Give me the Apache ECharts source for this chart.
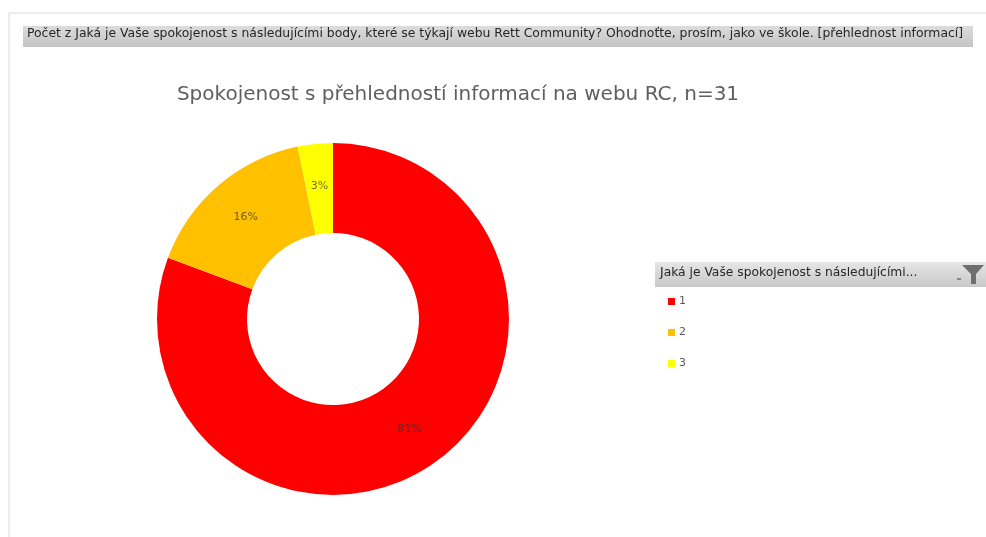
<!DOCTYPE html>
<html>
<head>
<meta charset="utf-8">
<script src="https://cdn.jsdelivr.net/npm/echarts@6/dist/echarts.min.js"></script>
<style>
  html, body { margin: 0; padding: 0; background: #ffffff; }
  #chart { width: 986px; height: 537px; }
</style>
</head>
<body>
<div id="chart"></div>
<script>
// Survey answers (school grade 1–3) and their respondent counts
const categories = ['1', '2', '3'];
const counts = [25, 5, 1];
const colors = ['#FF0000', '#FFC000', '#FFFF00'];

const headerText = 'Počet z Jaká je Vaše spokojenost s následujícími body, které se týkají webu Rett Community? Ohodnoťte, prosím, jako ve škole. [přehlednost informací]';
const titleText = 'Spokojenost s přehledností informací na webu RC, n=31';
const legendTitle = 'Jaká je Vaše spokojenost s následujícími...';

const chart = echarts.init(document.getElementById('chart'), null, { renderer: 'canvas' });

const pieData = categories.map((c, i) => ({
  name: c,
  value: counts[i],
  itemStyle: { color: colors[i] }
}));

chart.setOption({
  animation: false,
  backgroundColor: '#ffffff',
  title: {
    text: titleText,
    left: 453,
    top: 80,
    textAlign: 'center',
    textStyle: {
      fontFamily: 'DejaVu Sans',
      fontSize: 20,
      fontWeight: 'normal',
      color: '#5f5f5f'
    }
  },
  legend: {
    orient: 'vertical',
    left: 663,
    top: 291,
    itemWidth: 7,
    itemHeight: 7,
    itemGap: 20,
    icon: 'rect',
    data: categories,
    textStyle: { fontFamily: 'DejaVu Sans', fontSize: 11, color: '#595959', padding: [0, 0, 0, -1] }
  },
  graphic: [
    // outer frame lines
    { type: 'line', shape: { x1: 9, y1: 13, x2: 986, y2: 13 }, style: { stroke: '#d9d9d9', lineWidth: 1 } },
    { type: 'line', shape: { x1: 9, y1: 13, x2: 9, y2: 537 }, style: { stroke: '#d9d9d9', lineWidth: 1 } },
    // field header bar
    {
      type: 'rect',
      shape: { x: 23, y: 26, width: 950, height: 21 },
      style: {
        fill: new echarts.graphic.LinearGradient(0, 0, 0, 1, [
          { offset: 0, color: '#dcdcdc' },
          { offset: 1, color: '#c4c4c4' }
        ])
      }
    },
    {
      type: 'text',
      left: 27,
      top: 28,
      style: { text: headerText, fontFamily: 'DejaVu Sans', fontSize: 12.4, fill: '#262626' }
    },
    // legend field header bar
    {
      type: 'rect',
      shape: { x: 655, y: 262, width: 331, height: 25 },
      style: {
        fill: new echarts.graphic.LinearGradient(0, 0, 0, 1, [
          { offset: 0, color: '#e6e6e6' },
          { offset: 1, color: '#c8c8c8' }
        ])
      }
    },
    {
      type: 'text',
      left: 660,
      top: 267,
      style: { text: legendTitle, fontFamily: 'DejaVu Sans', fontSize: 12.3, fill: '#262626' }
    },
    // filter (funnel) icon
    {
      type: 'polygon',
      shape: { points: [[962, 265], [984, 265], [976, 274], [976, 284], [971, 284], [971, 274]] },
      style: { fill: '#6e6e6e' }
    },
    { type: 'line', shape: { x1: 957, y1: 279, x2: 961, y2: 279 }, style: { stroke: '#6e6e6e', lineWidth: 1.5 } }
  ],
  series: [{
    type: 'pie',
    center: [333, 319],
    radius: [86, 176],
    startAngle: 90,
    clockwise: true,
    avoidLabelOverlap: false,
    data: pieData,
    itemStyle: { borderWidth: 0 },
    label: {
      show: true,
      position: 'inside',
      formatter: p => Math.round(p.percent) + '%',
      fontFamily: 'DejaVu Sans',
      fontSize: 11,
      color: 'rgba(50,50,50,0.7)'
    },
    labelLine: { show: false },
    emphasis: { disabled: true }
  }]
});
</script>
</body>
</html>
